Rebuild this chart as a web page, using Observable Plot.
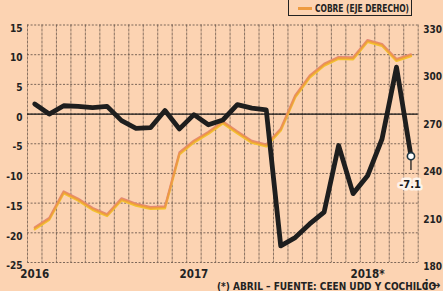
<!DOCTYPE html>
<html>
<head>
<meta charset="utf-8">
<script src="https://cdn.jsdelivr.net/npm/d3@7"></script>
<script src="https://cdn.jsdelivr.net/npm/@observablehq/plot@0.6"></script>
<style>
  html, body { margin:0; padding:0; background:#fcd3b2; overflow:hidden; }
  #wrap { position:relative; width:443px; height:291px; font-family:"DejaVu Sans Condensed","Liberation Sans",sans-serif; }
  #legend { position:absolute; left:288px; top:-13px; width:124px; height:29px; border:1px solid #222; box-sizing:border-box; background:#fcd3b2; }
  .row { position:absolute; left:9px; height:12px; font-weight:bold; font-size:10.5px; color:#222; white-space:nowrap; line-height:12px; }
  .sw { position:absolute; left:0; top:5px; width:14px; height:3px; }
  .lt { position:absolute; left:17px; top:0; width:max-content; transform-origin:0 50%; }
  #caption { position:absolute; left:217px; top:281px; width:max-content; font-weight:bold; font-size:10px; color:#222; white-space:nowrap; transform-origin:0 50%; }
</style>
</head>
<body>
<div id="wrap">
  <div id="chart"></div>
  <div id="legend">
    <div class="row" style="top:0px"><span class="sw" style="background:#222"></span><span class="lt" data-w="62">ÍNDICE MINERO</span></div>
    <div class="row" style="top:14px"><span class="sw" style="background:#ee9b40"></span><span class="lt" data-w="94">COBRE (EJE DERECHO)</span></div>
  </div>
  <div id="caption" data-w="221">(*) ABRIL – FUENTE: CEEN UDD Y COCHILCO</div>
</div>
<script>
const months = ["feb-16","mar-16","abr-16","may-16","jun-16","jul-16","ago-16","sep-16","oct-16","nov-16","dic-16",
  "ene-17","feb-17","mar-17","abr-17","may-17","jun-17","jul-17","ago-17","sep-17","oct-17","nov-17","dic-17",
  "ene-18","feb-18","mar-18","abr-18"];
const confianza = [1.7, 0.0, 1.4, 1.3, 1.1, 1.3, -1.1, -2.4, -2.3, 0.6, -2.5, -0.1, -1.8, -1.0, 1.6, 1.0, 0.7,
  -22.2, -20.8, -18.5, -16.5, -5.3, -13.4, -10.4, -4.2, 7.9, -7.1];
const cobre = [201.7, 207.6, 224.4, 219.8, 213.9, 210, 220, 216.6, 214.5, 214.9, 249, 256.5, 262, 268.6, 262.3,
  256.3, 254, 264, 285, 297.5, 305, 309.3, 309, 320, 317.5, 308, 311];
const yTicks = [15, 10, 5, 0, -5, -10, -15, -20, -25];
const rightTicks = [330, 300, 270, 240, 210, 180];
const yearLabels = ["2016", "2017", "2018*"];
const yearMonths = ["feb-16", "ene-17", "ene-18"];

// right axis (copper) mapped onto left scale
const toLeft = c => -25 + (c - 180) * 40 / 150;

const rows = months.map((m, i) => ({i, m, conf: confianza[i], cu: toLeft(cobre[i])}));
const last = rows[rows.length - 1];
const bounds = months.map((m, i) => i - 0.5).concat([months.length - 0.5]);
const yearIdx = yearMonths.map(m => months.indexOf(m));

const font = "'DejaVu Sans Condensed','Liberation Sans',sans-serif";
const grid = "#5e4d43";

const chart = Plot.plot({
  width: 443, height: 291,
  marginLeft: 27, marginRight: 25.3, marginTop: 24.5, marginBottom: 29,
  style: {background: "transparent", fontFamily: font, fontSize: "10px", color: "#222", overflow: "visible"},
  x: {domain: [-0.5, months.length - 0.5]},
  y: {domain: [-25, 15]},
  marks: [
    Plot.ruleX(bounds, {stroke: grid, strokeWidth: 0.8, strokeDasharray: "3,1", strokeOpacity: 0.9}),
    Plot.ruleY(yTicks, {stroke: grid, strokeWidth: 0.9, strokeDasharray: "2,1.6", strokeOpacity: 0.9}),
    Plot.ruleY([0], {stroke: "#151515", strokeWidth: 1.3}),
    Plot.line(rows, {x: "i", y: "cu", stroke: "#f3c22e", strokeWidth: 2.4, dy: 1}),
    Plot.line(rows, {x: "i", y: "cu", stroke: "#e48878", strokeWidth: 2.2, dy: -0.8}),
    Plot.line(rows, {x: "i", y: "cu", stroke: "#ee9b40", strokeWidth: 1.6}),
    Plot.line(rows, {x: "i", y: "conf", stroke: "#1e1e1e", strokeWidth: 4.8}),
    Plot.ruleX([last], {x: "i", y1: "conf", y2: d => d.conf - 2.4, stroke: "#1e1e1e", strokeWidth: 1.3}),
    Plot.dot([last], {x: "i", y: "conf", r: 3.6, fill: "white", stroke: "#1d3440", strokeWidth: 1.6}),
    Plot.text([last], {x: "i", y: "conf", text: d => String(d.conf), dy: 28, dx: -1, fontWeight: "bold", fontSize: 11,
      fill: "#1a1a1a", stroke: "#fdf3ea", strokeWidth: 5, paintOrder: "stroke"}),
    Plot.axisY(yTicks, {anchor: "left", tickSize: 0, tickPadding: 5, dy: 3.5, fontWeight: "bold",
      tickFormat: d => String(d), fill: "#222"}),
    Plot.axisY(rightTicks.map(toLeft), {anchor: "right", tickSize: 0, tickPadding: 5, dy: 4.5, fontWeight: "bold",
      tickFormat: (d, i) => String(rightTicks[i]), fill: "#222"}),
    Plot.axisX(yearIdx, {anchor: "bottom", tickSize: 0, tickPadding: 7, fontWeight: "bold", fontSize: 11.5,
      tickFormat: (d, i) => yearLabels[i], fill: "#222"})
  ]
});
document.getElementById("chart").appendChild(chart);

// squeeze the narrow print-style HTML texts to their measured widths
document.querySelectorAll("[data-w]").forEach(el => {
  const w = Math.max(el.scrollWidth, el.getBoundingClientRect().width);
  const target = +el.dataset.w;
  if (w > target) el.style.transform = `scaleX(${target / w})`;
});
</script>
</body>
</html>
